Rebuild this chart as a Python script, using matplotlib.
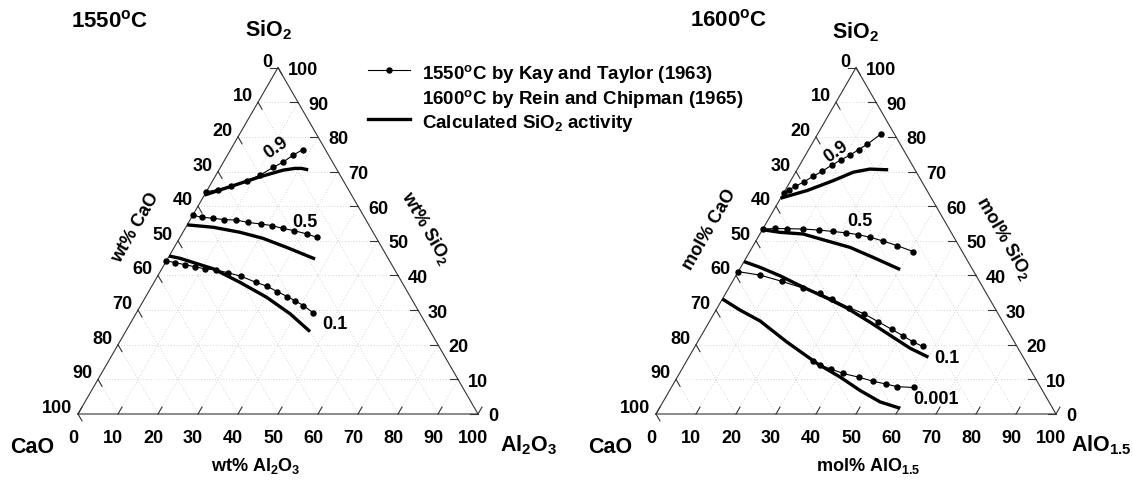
import numpy as np
import matplotlib.pyplot as plt
from matplotlib.lines import Line2D

plt.rcParams['font.family'] = ['Liberation Sans', 'DejaVu Sans']
plt.rcParams['font.weight'] = 'bold'
plt.rcParams['mathtext.fontset'] = 'custom'
plt.rcParams['mathtext.rm'] = 'Liberation Sans:bold'
plt.rcParams['mathtext.it'] = 'Liberation Sans:bold'
plt.rcParams['mathtext.bf'] = 'Liberation Sans:bold'

# compositions given as (Al2O3 or AlO1.5 %, SiO2 %), CaO is the balance

# 1550 C, wt%, Kay and Taylor (1963)
kt09_al = [0.0, 2.5, 5.4, 8.5, 11.0, 13.2, 14.9, 16.4, 18.0]
kt09_si = [64.1, 64.8, 65.8, 67.3, 68.9, 71.2, 72.7, 74.7, 76.3]
kt05_al = [0.0, 2.5, 5.6, 8.5, 11.5, 14.9, 18.3, 21.2, 24.4, 27.6, 31.2, 34.2]
kt05_si = [57.4, 56.8, 56.5, 56.1, 56.0, 55.3, 54.85, 54.4, 53.6, 52.9, 52.0, 51.0]
kt01_al = [0.0, 2.4, 5.2, 8.0, 10.8, 13.7, 17.0, 20.9, 25.5, 28.8, 32.2, 35.4, 37.9, 40.7, 44.2]
kt01_si = [44.2, 43.7, 43.1, 42.5, 41.9, 41.6, 40.8, 39.75, 38.0, 36.9, 35.3, 33.9, 32.7, 31.3, 29.2]

# 1550 C, wt%, calculated
c1550_09_al = [0.0, 5.6, 11.3, 16.1, 18.8, 20.4, 22.3]
c1550_09_si = [63.2, 65.8, 68.5, 70.4, 70.9, 70.9, 70.5]
c1550_05_al = [0.0, 6.9, 14.3, 20.9, 28.1, 36.9]
c1550_05_si = [54.6, 53.9, 52.45, 50.7, 48.1, 44.75]
c1550_01_al = [0.0, 3.0, 12.9, 21.5, 30.3, 38.6, 46.1]
c1550_01_si = [45.6, 44.95, 41.9, 38.0, 33.7, 28.9, 23.8]

# 1600 C, mol%, Rein and Chipman (1965)
rc09_al = [0.0, 0.85, 2.0, 3.4, 5.0, 6.5, 8.0, 9.5, 11.1, 12.5, 13.9, 15.8]
rc09_si = [63.8, 64.8, 65.7, 67.0, 68.6, 70.1, 71.8, 73.3, 74.7, 76.3, 77.9, 80.8]
rc05_al = [0.0, 3.0, 5.9, 10.05, 14.25, 17.8, 21.3, 24.6, 28.1, 31.9, 36.0, 40.9]
rc05_si = [53.4, 53.55, 53.5, 53.4, 53.1, 52.7, 52.3, 51.8, 51.0, 49.9, 48.6, 46.85]
rc01_al = [0.0, 5.95, 12.3, 18.7, 23.6, 27.3, 33.0, 37.6, 42.3, 46.7, 50.4, 53.7, 56.9]
rc01_si = [41.1, 40.1, 38.3, 36.3, 34.8, 33.2, 30.7, 28.9, 26.6, 24.45, 22.6, 20.9, 19.5]
rc0001_al = [31.5, 33.95, 37.2, 40.95, 45.45, 49.4, 53.1, 56.3, 60.7]
rc0001_si = [15.4, 14.1, 13.0, 11.7, 10.6, 9.5, 8.66, 7.9, 7.65]

# 1600 C, mol%, calculated
c1600_09_al = [0.0, 5.5, 10.6, 14.4, 18.1, 22.8]
c1600_09_si = [62.3, 64.5, 67.35, 69.8, 70.7, 70.5]
c1600_05_al = [0.0, 4.8, 10.8, 17.7, 24.45, 31.7, 40.2]
c1600_05_si = [53.2, 52.45, 51.96, 50.0, 48.1, 45.2, 41.7]
c1600_01_al = [0.0, 4.8, 11.05, 18.5, 25.9, 32.4, 40.25, 48.3, 54.0, 59.9]
c1600_01_si = [44.0, 42.35, 39.9, 36.6, 33.5, 30.6, 26.5, 22.1, 19.0, 16.4]
c1600_0001_al = [0.0, 6.0, 12.6, 22.3, 33.3, 40.65, 47.6, 54.25, 60.2]
c1600_0001_si = [33.2, 30.0, 26.85, 20.8, 14.4, 10.7, 6.8, 3.5, 1.65]

ticks = list(range(0, 101, 10))

# triangle geometry (pixel units of the canvas)
SIDE = 400.0
HGT = SIDE * np.sqrt(3) / 2
BASE = 415.0
X_LEFT, X_RIGHT = 78.0, 656.0

fig = plt.figure(figsize=(11.33, 4.81), dpi=100)
ax = fig.add_axes([0, 0, 1, 1])
ax.set_xlim(0, 1133)
ax.set_ylim(481, 0)
ax.axis('off')


def tern(x0, al, si):
    al = np.asarray(al, dtype=float) / 100.0
    si = np.asarray(si, dtype=float) / 100.0
    return x0 + SIDE * (al + si / 2), BASE - HGT * si


def frame(x0, label, label_x):
    # dotted grid
    for v in ticks[1:-1]:
        for seg in (([0, 100 - v], [v, v]),          # const SiO2
                    ([v, v], [0, 100 - v]),          # const Al
                    ([100 - v, 0], [0, 100 - v])):   # const CaO
            gx, gy = tern(x0, *seg)
            ax.plot(gx, gy, color='#b4b4b4', lw=0.5, ls=(0, (1, 3)), zorder=1)
    # edges
    ex, ey = tern(x0, [0, 100, 0, 0], [0, 0, 100, 0])
    ax.plot(ex, ey, color='#333333', lw=0.8, zorder=2)
    tl = 8.0
    for v in ticks:
        # bottom axis (Al)
        px, py = tern(x0, v, 0)
        ax.plot([px, px + 0.5 * tl], [py, py - 0.866 * tl], color='#333333', lw=0.8)
        ax.text(px - 5, py + 28, str(v), ha='center', va='baseline', fontsize=13)
        # left axis (CaO)
        px, py = tern(x0, 0, 100 - v)
        ax.plot([px, px + 0.5 * tl], [py, py + 0.866 * tl], color='#333333', lw=0.8)
        ax.text(px - 5.5, py - 2, str(v), ha='right', va='baseline', fontsize=13)
        # right axis (SiO2)
        px, py = tern(x0, 100 - v, v)
        ax.plot([px, px - tl], [py, py], color='#333333', lw=0.8)
        ax.text(px + 10, py + 6.5, str(v), ha='left', va='baseline', fontsize=13)
    ax.text(label_x, 466, label, ha='center', va='center', fontsize=13)


def curve(x0, al, si, calc=False):
    px, py = tern(x0, al, si)
    if calc:
        ax.plot(px, py, color='black', lw=2.4, solid_capstyle='butt', zorder=4)
    else:
        ax.plot(px, py, color='black', lw=0.8, marker='o', ms=3.6, zorder=5)


# left: 1550 C, wt%
frame(X_LEFT, r'wt% Al$_2$O$_3$', 256)
for al, si in ((kt09_al, kt09_si), (kt05_al, kt05_si), (kt01_al, kt01_si)):
    curve(X_LEFT, al, si)
for al, si in ((c1550_09_al, c1550_09_si), (c1550_05_al, c1550_05_si), (c1550_01_al, c1550_01_si)):
    curve(X_LEFT, al, si, calc=True)

ax.text(110, 27, r'1550$^{\mathrm{o}}$C', ha='center', va='baseline', fontsize=16)
ax.text(268, 36, r'SiO$_2$', ha='center', va='baseline', fontsize=15.5)
ax.text(32, 453, 'CaO', ha='center', va='baseline', fontsize=15.5)
ax.text(529, 451, r'Al$_2$O$_3$', ha='center', va='baseline', fontsize=15.5)
ax.text(136, 228, 'wt% CaO', rotation=60, ha='center', va='center', fontsize=13)
ax.text(426, 228, r'wt% SiO$_2$', rotation=-60, ha='center', va='center', fontsize=13)
ax.text(276, 148, '0.9', rotation=35, ha='center', va='center', fontsize=13)
ax.text(305, 223, '0.5', ha='center', va='center', fontsize=13)
ax.text(335, 325, '0.1', ha='center', va='center', fontsize=13)

# right: 1600 C, mol%
frame(X_RIGHT, r'mol% AlO$_{1.5}$', 868)
for al, si in ((rc09_al, rc09_si), (rc05_al, rc05_si), (rc01_al, rc01_si), (rc0001_al, rc0001_si)):
    curve(X_RIGHT, al, si)
for al, si in ((c1600_09_al, c1600_09_si), (c1600_05_al, c1600_05_si),
               (c1600_01_al, c1600_01_si), (c1600_0001_al, c1600_0001_si)):
    curve(X_RIGHT, al, si, calc=True)

ax.text(729, 26, r'1600$^{\mathrm{o}}$C', ha='center', va='baseline', fontsize=16)
ax.text(855, 38, r'SiO$_2$', ha='center', va='baseline', fontsize=15.5)
ax.text(610, 453, 'CaO', ha='center', va='baseline', fontsize=15.5)
ax.text(1101, 451, r'AlO$_{1.5}$', ha='center', va='baseline', fontsize=15.5)
ax.text(710, 230, 'mol% CaO', rotation=60, ha='center', va='center', fontsize=13)
ax.text(1004, 238, r'mol% SiO$_2$', rotation=-60, ha='center', va='center', fontsize=13)
ax.text(836, 152, '0.9', rotation=35, ha='center', va='center', fontsize=13)
ax.text(860, 222, '0.5', ha='center', va='center', fontsize=13)
ax.text(947, 359, '0.1', ha='center', va='center', fontsize=13)
ax.text(936, 400, '0.001', ha='center', va='center', fontsize=13)

# legend
handles = [Line2D([], [], color='black', lw=0.8, marker='o', ms=3.6),
           Line2D([], [], color='none'),
           Line2D([], [], color='black', lw=2.4)]
labels = [r'1550$^{\mathrm{o}}$C by Kay and Taylor (1963)',
          r'1600$^{\mathrm{o}}$C by Rein and Chipman (1965)',
          r'Calculated SiO$_2$ activity']
ax.legend(handles, labels, loc='upper left', bbox_to_anchor=(368, 63),
          bbox_transform=ax.transData, frameon=False, fontsize=13.5,
          handlelength=2.24, handletextpad=0.62, borderpad=0, borderaxespad=0,
          labelspacing=0.15, handleheight=1.15, numpoints=1)

fig.savefig('out.png', dpi=100)
